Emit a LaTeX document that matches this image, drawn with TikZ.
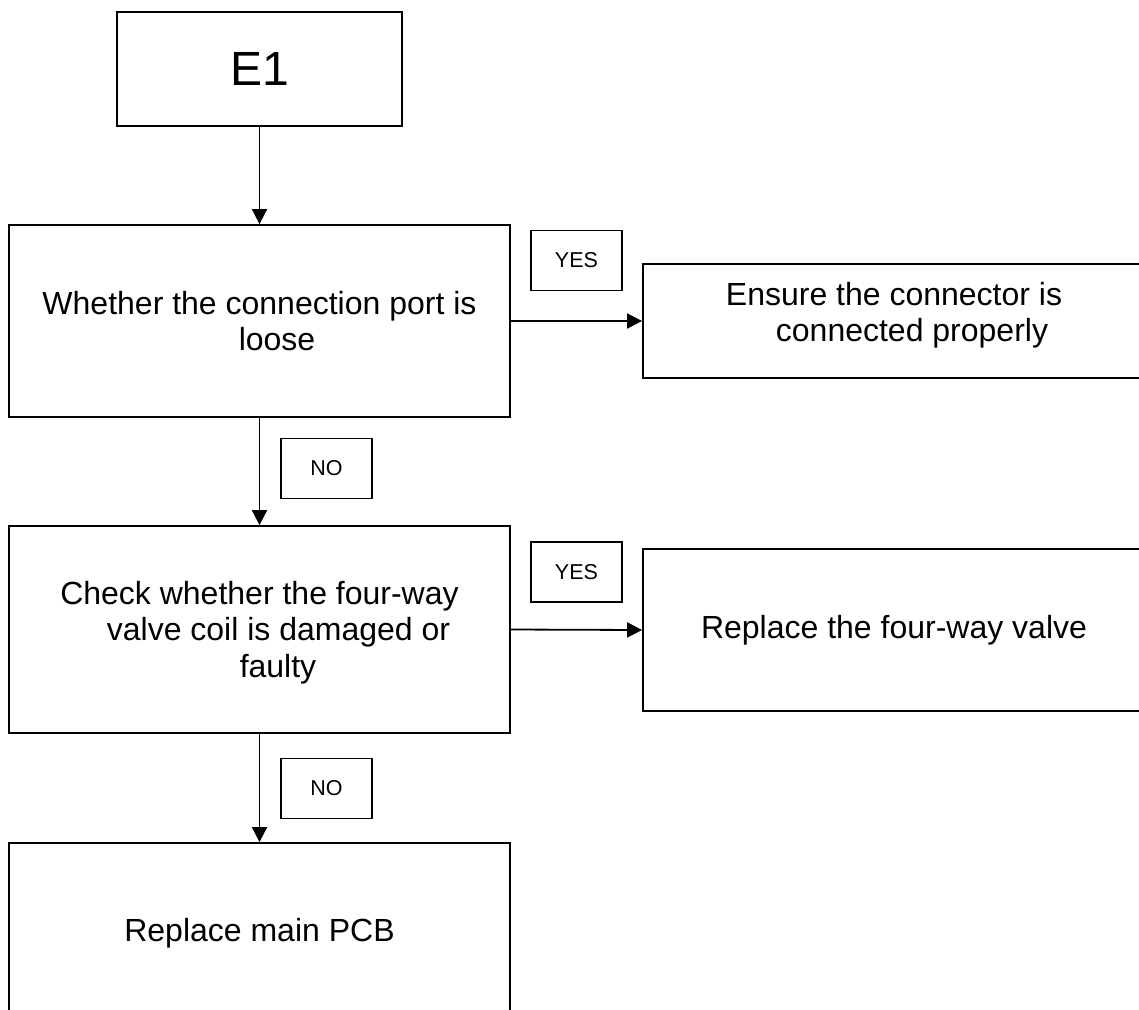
\documentclass[tikz,border=0pt]{standalone}
\usepackage{fontspec}
\setmainfont{Liberation Sans}
\usetikzlibrary{arrows.meta}
\begin{document}
\begin{tikzpicture}[x=1pt,y=-1pt,
  flowbox/.style={draw=black, line width=1.8pt, inner sep=0pt, align=center,
    font=\fontsize{32}{36.5}\selectfont},
  plaintext/.style={inner sep=0pt, align=center, font=\fontsize{32}{36.5}\selectfont},
  tagbox/.style={draw=black, line width=1.8pt, minimum width=91pt, minimum height=60pt,
    inner sep=0pt, font=\fontsize{21.5}{25}\selectfont},
  conn/.style={line width=1.8pt, -{Triangle[length=15pt,width=15pt]}}]
\useasboundingbox (0,0) rectangle (1139,1009);
\clip (0,0) rectangle (1139,1009);
\fill[white] (0,0) rectangle (1139,1009);

\node[flowbox, minimum width=285pt, minimum height=114pt,
  font=\fontsize{48}{56}\selectfont] (e1) at (259.5,69) {E1};
\node[flowbox, minimum width=501pt, minimum height=192pt] (b2) at (259.5,321)
  {Whether the connection port is\\\hspace*{35pt}loose};
\node[flowbox, minimum width=502pt, minimum height=114pt] (b3) at (894,321) {};
\node[plaintext] (t3) at (894,315) {Ensure the connector is\\\hspace*{36pt}connected properly};
\node[flowbox, minimum width=501pt, minimum height=207pt] (b4) at (259.5,629.5) {};
\node[plaintext] (t4) at (259.5,632.5)
  {Check whether the four-way\\\hspace*{38pt}valve coil is damaged or\\\hspace*{37pt}faulty};
\node[flowbox, minimum width=502pt, minimum height=162pt] (b5) at (894,630)
  {Replace the four-way valve};
\node[flowbox, minimum width=501pt, minimum height=180pt] (b6) at (259.5,933)
  {Replace main PCB};

\node[tagbox] (y1) at (576.5,260.5) {YES};
\node[tagbox] (y2) at (576.5,572) {YES};
\node[tagbox] (n1) at (326.5,468.5) {NO};
\node[tagbox] (n2) at (326.5,788.5) {NO};

\draw[conn] (e1.south) -- (b2.north);
\draw[conn] (b2.south) -- (b4.north);
\draw[conn] (b4.south) -- (b6.north);
\draw[conn] (b2.east) -- (b3.west);
\draw[conn] (b4.east) -- (b5.west);
\end{tikzpicture}
\end{document}
